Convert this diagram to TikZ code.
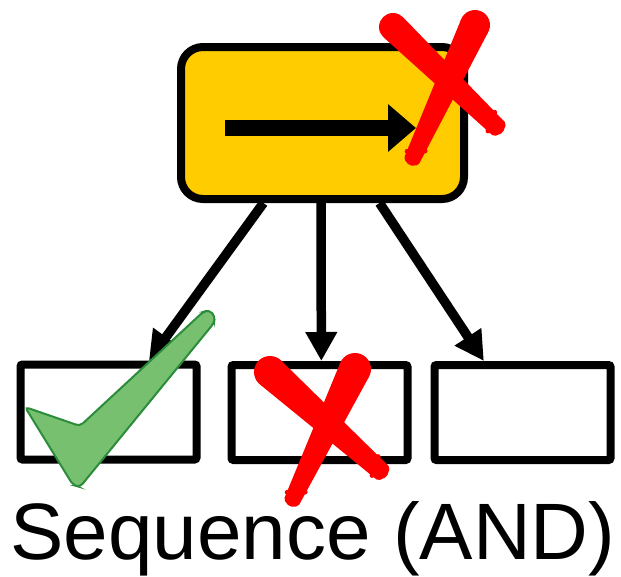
\documentclass[tikz,border=0pt]{standalone}
\usepackage{fontspec}
\setmainfont{Liberation Sans}
\usetikzlibrary{arrows.meta,calc}

\definecolor{seqyellow}{HTML}{FFCC00}
\definecolor{xred}{HTML}{FF0000}
\definecolor{checkfill}{HTML}{77C070}
\definecolor{checkline}{HTML}{2B8C3C}

% a tapered brush stroke: #1 start, #2 end, #3 start half-width, #4 end half-width
\newcommand\brushstroke[4]{%
  \fill[xred] (#1) circle (#3);
  \fill[xred, rounded corners=2pt]
    ($(#1)!#3!90:(#2)$) -- ($(#2)!#4!-90:(#1)$)
    -- ($(#2)!-4pt!(#1)$) -- ($(#2)!#4!90:(#1)$)
    -- ($(#1)!#3!-90:(#2)$) -- cycle;
  % frayed bristle marks near the end
  \fill[xred] ($(#2)!8pt!(#1)!#4!90:(#1)$) circle (2.5pt);
  \fill[xred] ($(#2)!16pt!(#1)!#4!-90:(#1)$) circle (2.5pt);
}

\tikzset{
  parent/.style={draw, line width=8pt, rounded corners=22pt, fill=seqyellow,
    minimum width=283pt, minimum height=152pt, inner sep=0pt},
  child/.style={draw, line width=8pt, rounded corners=2pt, fill=white,
    minimum width=176pt, minimum height=95pt, inner sep=0pt},
  link/.style={line width=9.5pt, -{Triangle[length=29pt, width=30pt]}},
}

\begin{document}
\begin{tikzpicture}[x=1pt, y=-1pt]
  \useasboundingbox (0,0) rectangle (621,576);

  % sequence node
  \node[parent] (seq) at (322.5,123) {};
  \coordinate (arrA) at (225,128);
  \coordinate (arrB) at (416,128);
  \draw[line width=16pt, -{Triangle[length=28pt, width=46pt]}] (arrA) -- (arrB);

  % child nodes
  \node[child] (c1) at (108.5,412) {};
  \node[child] (c2) at (319.5,412.5) {};
  \node[child] (c3) at (522.5,412.5) {};

  % connectors
  \draw[link] ($(seq.south west)!0.297!(seq.south east)$) -- ($(c1.north west)!0.72!(c1.north east)$);
  \draw[link] ($(seq.south west)!0.495!(seq.south east)$) -- ($(c2.north west)!0.51!(c2.north east)$);
  \draw[link] ($(seq.south west)!0.696!(seq.south east)$) -- ($(c3.north west)!0.29!(c3.north east)$);

  % cross on the sequence node
  \brushstroke{393,27}{500,130}{14pt}{9pt}
  \brushstroke{475,25}{411,162}{15pt}{8pt}

  % cross on the second child
  \brushstroke{270,372}{384,474}{16pt}{9pt}
  \brushstroke{355,369}{291,503}{16pt}{8pt}

  % check mark on the first child
  \filldraw[fill=checkfill, draw=checkline, line width=2pt, rounded corners=4pt]
    (25,407) -- (80,426) -- (203,312) -- (209,310) -- (215,316) -- (214,323)
    -- (80,487) -- (73,485) -- cycle;

  % caption
  \node[anchor=base, font=\fontsize{80}{90}\selectfont, inner sep=0pt] (label) at (313,559) {Sequence (AND)};
\end{tikzpicture}
\end{document}
